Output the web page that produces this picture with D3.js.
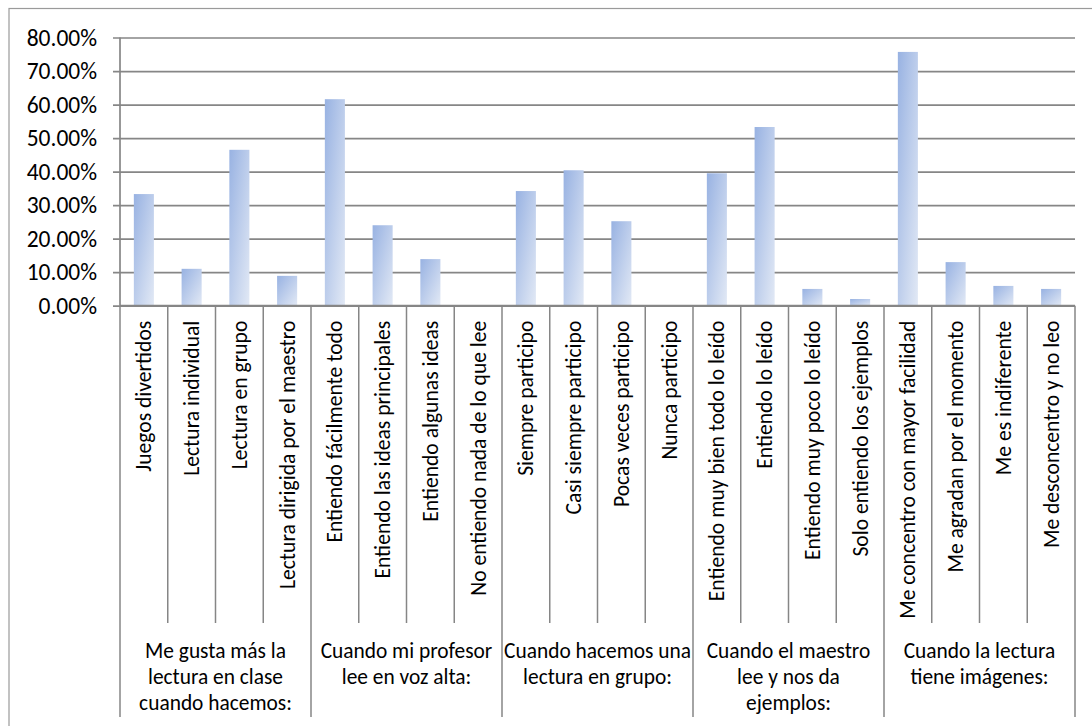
<!DOCTYPE html>
<html>
<head>
<meta charset="utf-8">
<script src="https://cdn.jsdelivr.net/npm/d3@7"></script>
<style>
  html, body { margin: 0; padding: 0; background: #fff; }
  svg { display: block; }
  text { font-family: Carlito, Lato, "Open Sans", sans-serif; fill: #000; }
</style>
</head>
<body>
<svg id="chart" width="1092" height="726"></svg>
<script>
const categories = [
  "Juegos divertidos", "Lectura individual", "Lectura en grupo", "Lectura dirigida por el maestro",
  "Entiendo fácilmente todo", "Entiendo las ideas principales", "Entiendo algunas ideas", "No entiendo nada de lo que lee",
  "Siempre participo", "Casi siempre participo", "Pocas veces participo", "Nunca participo",
  "Entiendo muy bien todo lo leído", "Entiendo lo leído", "Entiendo muy poco lo leído", "Solo entiendo los ejemplos",
  "Me concentro con mayor facilidad", "Me agradan por el momento", "Me es indiferente", "Me desconcentro y no leo"
];
const values = [
  0.333, 0.110, 0.465, 0.089,
  0.616, 0.240, 0.139, 0.000,
  0.342, 0.404, 0.252, 0.000,
  0.395, 0.533, 0.050, 0.020,
  0.757, 0.130, 0.059, 0.050
];
const groupLabels = [
  ["Me gusta más la", "lectura en clase", "cuando hacemos:"],
  ["Cuando mi profesor", "lee en voz alta:"],
  ["Cuando hacemos una", "lectura en grupo:"],
  ["Cuando el maestro", "lee y nos da", "ejemplos:"],
  ["Cuando la lectura", "tiene imágenes:"]
];
const groupSize = 4;
const yTicks = [0, 0.1, 0.2, 0.3, 0.4, 0.5, 0.6, 0.7, 0.8];

const svg = d3.select("#chart");
const plotLeft = 120, plotRight = 1075, plotTop = 37.5, plotBottom = 305.7;
const catBottom = 623, groupBottom = 717;
const tickFont = 23.5, catFont = 21.6, groupFont = 21.4;
const gridColor = "#868686";

// outer chart border (cropped at right/bottom)
svg.append("rect")
  .attr("x", 9).attr("y", 8.5).attr("width", 1200).attr("height", 800)
  .attr("fill", "none").attr("stroke", "#9a9a9a").attr("stroke-width", 1.2);

const defs = svg.append("defs");
const grad = defs.append("linearGradient").attr("id", "barGrad")
  .attr("x1", 0).attr("y1", 0).attr("x2", 1).attr("y2", 1);
grad.append("stop").attr("offset", "0%").attr("stop-color", "#98b2e2");
grad.append("stop").attr("offset", "100%").attr("stop-color", "#e2e9f5");

const x = d3.scaleBand().domain(categories).range([plotLeft, plotRight])
  .paddingInner(0.58).paddingOuter(0.29);
const y = d3.scaleLinear().domain([0, 0.8]).range([plotBottom, plotTop]);

// y gridlines + ticks
const yAxis = d3.axisLeft(y).tickValues(yTicks)
  .tickSize(-(plotRight - plotLeft)).tickPadding(23)
  .tickFormat(d => (d * 100).toFixed(2) + "%");
const yg = svg.append("g").attr("transform", `translate(${plotLeft},0)`).call(yAxis);
yg.select(".domain").remove();
yg.selectAll(".tick line").attr("stroke", gridColor).attr("stroke-width", 1.7).attr("x1", -7);
yg.selectAll(".tick text").attr("font-size", tickFont).attr("font-family", null).attr("fill", "#000");

// bars
svg.append("g").selectAll("rect").data(categories).join("rect")
  .attr("x", d => x(d))
  .attr("width", x.bandwidth())
  .attr("y", (d, i) => y(values[i]))
  .attr("height", (d, i) => y(0) - y(values[i]))
  .attr("fill", "url(#barGrad)");

// y axis line
svg.append("line").attr("x1", plotLeft).attr("x2", plotLeft).attr("y1", plotTop).attr("y2", plotBottom)
  .attr("stroke", gridColor).attr("stroke-width", 1.7);
// x axis line
svg.append("line").attr("x1", plotLeft).attr("x2", plotRight).attr("y1", plotBottom).attr("y2", plotBottom)
  .attr("stroke", gridColor).attr("stroke-width", 1.7);

// category separators
const step = x.step();
const boundaries = d3.range(categories.length + 1).map(i => x.range()[0] + i * step);
svg.append("g").selectAll("line").data(boundaries).join("line")
  .attr("x1", d => d).attr("x2", d => d)
  .attr("y1", plotBottom)
  .attr("y2", (d, i) => i % groupSize === 0 ? groupBottom : catBottom)
  .attr("stroke", gridColor).attr("stroke-width", 1.5);

// category labels (rotated)
svg.append("g").selectAll("text").data(categories).join("text")
  .attr("transform", d => `translate(${x(d) + x.bandwidth() / 2},${plotBottom + 15}) rotate(-90)`)
  .attr("text-anchor", "end")
  .attr("dy", "0.35em")
  .attr("font-size", catFont)
  .text(d => d);

// group labels
const gl = svg.append("g").selectAll("text").data(groupLabels).join("text")
  .attr("text-anchor", "middle")
  .attr("font-size", groupFont)
  .attr("x", (d, i) => (boundaries[i * groupSize] + boundaries[(i + 1) * groupSize]) / 2)
  .attr("y", 658);
gl.selectAll("tspan").data(d => d).join("tspan")
  .attr("x", function() { return this.parentNode.getAttribute("x"); })
  .attr("dy", (d, i) => i === 0 ? 0 : 25.8)
  .text(d => d);
</script>
</body>
</html>
